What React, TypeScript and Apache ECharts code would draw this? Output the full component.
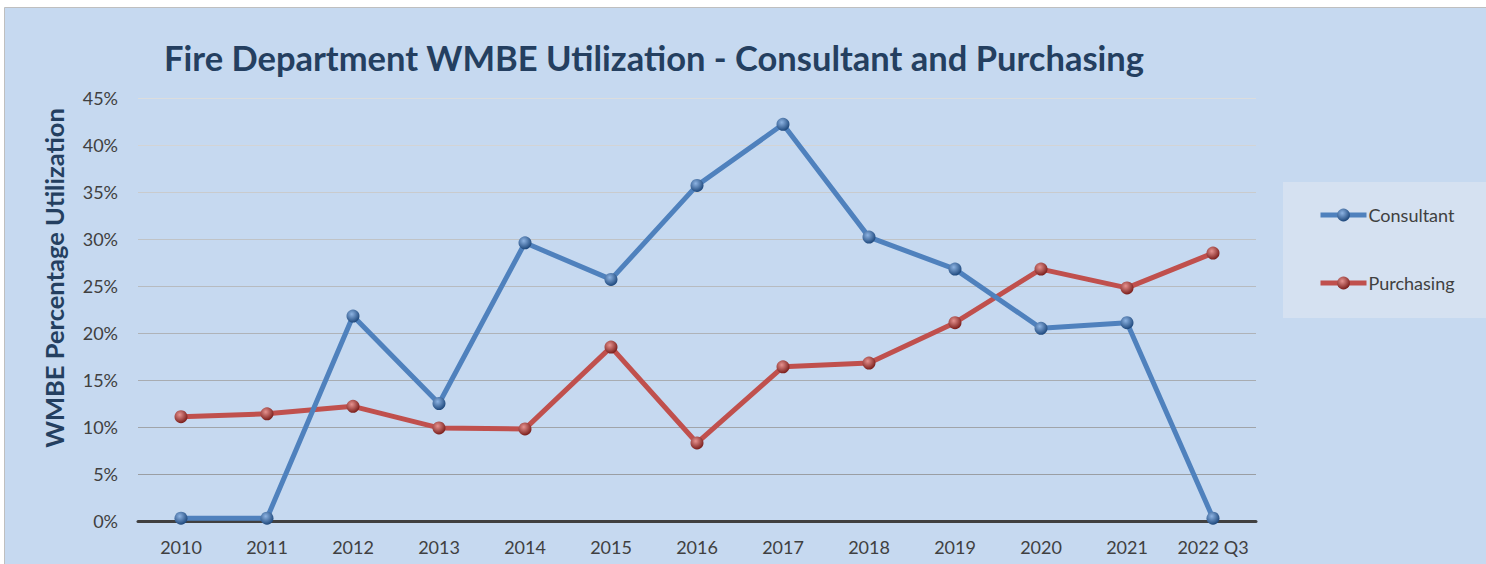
import React, { useEffect, useRef } from "react";
import * as echarts from "echarts";

const categories = ["2010", "2011", "2012", "2013", "2014", "2015", "2016", "2017", "2018", "2019", "2020", "2021", "2022 Q3"];
const consultant = [0.3, 0.3, 21.8, 12.5, 29.6, 25.7, 35.7, 42.2, 30.2, 26.8, 20.5, 21.1, 0.3];
const purchasing = [11.1, 11.4, 12.2, 9.9, 9.8, 18.5, 8.3, 16.4, 16.8, 21.1, 26.8, 24.8, 28.5];
const titleText = "Fire Department WMBE Utilization - Consultant and Purchasing";
const yAxisName = "WMBE Percentage Utilization";

const FONT = "Lato, 'Open Sans', sans-serif";

function sphere(light: string, dark: string) {
  return new echarts.graphic.RadialGradient(0.4, 0.35, 0.65, [
    { offset: 0, color: light },
    { offset: 1, color: dark },
  ]);
}

export default function App() {
  const ref = useRef<HTMLDivElement>(null);
  useEffect(() => {
    document.body.style.margin = "0";
    const chart = echarts.init(ref.current!, null, { renderer: "svg" });
    chart.setOption({
      animation: false,
      backgroundColor: "#ffffff",
      graphic: [
        {
          type: "rect",
          z: -100,
          silent: true,
          shape: { x: 4.5, y: 7.5, width: 1490, height: 570 },
          style: { fill: "#C6D9F0", stroke: "#BFBFBF", lineWidth: 1 },
        },
        {
          type: "rect",
          z: -50,
          silent: true,
          shape: { x: 1283, y: 182, width: 210, height: 136 },
          style: { fill: "#D5E1F1" },
        },
        {
          type: "text",
          x: 54,
          y: 278,
          rotation: Math.PI / 2,
          silent: true,
          style: {
            text: yAxisName,
            fontFamily: FONT,
            fontWeight: "bold",
            fontSize: 25.5,
            fill: "#243F60",
            align: "center",
            verticalAlign: "middle",
          },
        },
      ],
      title: {
        text: titleText,
        left: 649,
        top: 35,
        textAlign: "center",
        textStyle: { fontFamily: FONT, fontWeight: "bold", fontSize: 34.5, color: "#243F60" },
      },
      legend: {
        orient: "vertical",
        left: 1318,
        top: 206,
        padding: 0,
        itemWidth: 46,
        itemHeight: 16,
        itemGap: 50,
        lineStyle: { width: 5 },
        textStyle: { fontFamily: FONT, fontSize: 18, lineHeight: 16, color: "#404040", padding: [0, 0, 0, -3] },
        data: ["Consultant", "Purchasing"],
      },
      grid: { left: 138, right: 230, top: 98, bottom: 43 },
      xAxis: {
        type: "category",
        data: categories,
        boundaryGap: true,
        axisTick: { show: false },
        axisLine: { show: true, lineStyle: { color: "#404040", width: 3 } },
        axisLabel: { interval: 0, fontFamily: FONT, fontSize: 18, color: "#404040", margin: 17 },
        z: 1,
      },
      yAxis: {
        type: "value",
        min: 0,
        max: 45,
        interval: 5,
        axisLine: { show: false },
        axisTick: { show: false },
        axisLabel: { fontFamily: FONT, fontSize: 18, color: "#404040", formatter: "{value}%", margin: 20 },
        splitLine: {
          lineStyle: {
            width: 1,
            color: ["#404040", "#9A9EA3", "#A0A4A9", "#A8ACB1", "#AFB3B8", "#B7BBC0", "#C0C3C6", "#C9CBCD", "#D3D4D5", "#DCDDDD"],
          },
        },
      },
      series: [
        {
          name: "Consultant",
          type: "line",
          data: consultant,
          symbol: "circle",
          symbolSize: 13,
          lineStyle: { color: "#4F81BD", width: 5 },
          itemStyle: { color: sphere("#8DB3E2", "#1F497D") },
          z: 3,
        },
        {
          name: "Purchasing",
          type: "line",
          data: purchasing,
          symbol: "circle",
          symbolSize: 13,
          lineStyle: { color: "#C0504D", width: 5 },
          itemStyle: { color: sphere("#E6928F", "#7B1F1C") },
          z: 2,
        },
      ],
    });
    return () => chart.dispose();
  }, []);
  return <div ref={ref} style={{ width: 1486, height: 564 }} />;
}
